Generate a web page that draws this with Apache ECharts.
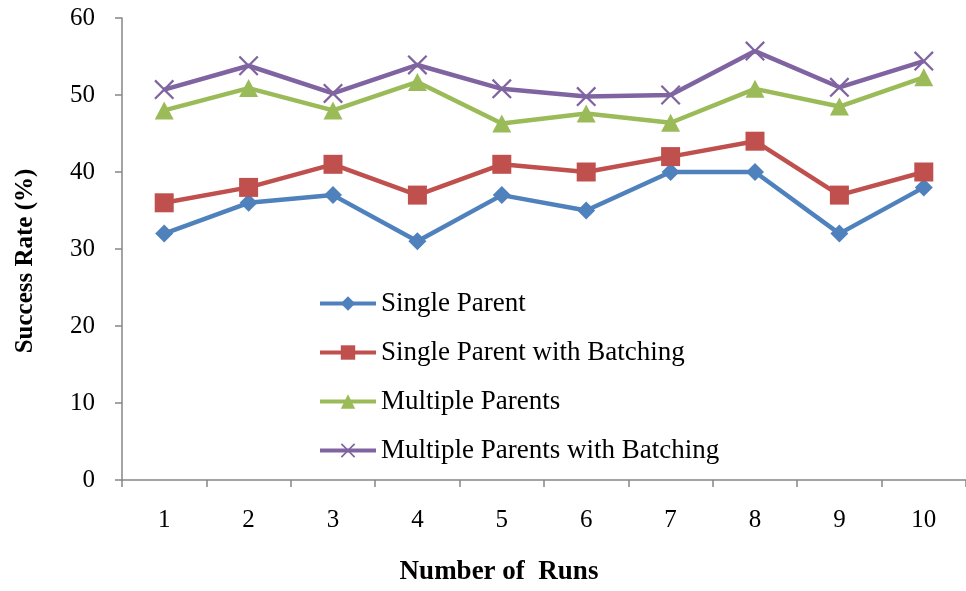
<!DOCTYPE html>
<html>
<head>
<meta charset="utf-8">
<script src="https://cdn.jsdelivr.net/npm/echarts@6/dist/echarts.min.js"></script>
<style>
html,body{margin:0;padding:0;background:#fff;}
#main{width:966px;height:591px;}
</style>
</head>
<body>
<div id="main"></div>
<script>
var runs = ['1','2','3','4','5','6','7','8','9','10'];
var singleParent = [32, 36, 37, 31, 37, 35, 40, 40, 32, 38];
var singleBatch = [36, 38, 41, 37, 41, 40, 42, 44, 37, 40];
var multiParents = [48, 50.9, 48, 51.7, 46.3, 47.6, 46.4, 50.8, 48.5, 52.3];
var multiBatch = [50.7, 53.8, 50.2, 53.9, 50.8, 49.8, 50, 55.7, 51, 54.4];
var yTicks = [0, 10, 20, 30, 40, 50, 60];

var serif = 'Liberation Serif';
// thin X marker, Excel style
var cross = 'path://M0,1.6L1.6,0L10,8.4L18.4,0L20,1.6L11.6,10L20,18.4L18.4,20L10,11.6L1.6,20L0,18.4L8.4,10Z';

var chart = echarts.init(document.getElementById('main'));
var option = {
	animation:false,
	grid:{
		left:122,
		right:-5,
		top:18,
		bottom:108
	},
	legend:{
		orient:'vertical',
		left:313,
		top:285,
		itemWidth:56,
		itemHeight:18,
		itemGap:22,
		lineStyle:{width:4},
		textStyle:{
			fontFamily:serif,
			fontSize:27,
			color:'#000'
		},
		data:['Single Parent','Single Parent with Batching','Multiple Parents','Multiple Parents with Batching']
	},
	xAxis:{
		type:'category',
		data:runs,
		boundaryGap:true,
		name:'Number of  Runs',
		nameLocation:'middle',
		nameGap:79,
		nameTextStyle:{
			fontFamily:serif,
			fontSize:27,
			fontWeight:'bold',
			color:'#000',
			padding:[0,90,0,0]
		},
		axisLine:{lineStyle:{color:'#868686',width:1.5}},
		axisTick:{show:true,length:7,alignWithLabel:false,lineStyle:{color:'#868686',width:1.5}},
		axisLabel:{
			margin:28,
			fontFamily:serif,
			fontSize:25,
			color:'#000'
		},
		splitLine:{show:false}
	},
	yAxis:{
		type:'value',
		min:yTicks[0],
		max:yTicks[yTicks.length-1],
		interval:10,
		name:'Success Rate (%)',
		nameLocation:'middle',
		nameGap:84,
		nameTextStyle:{
			fontFamily:serif,
			fontSize:25,
			fontWeight:'bold',
			color:'#000',
			padding:[0,24,0,0]
		},
		axisLine:{show:true,lineStyle:{color:'#868686',width:1.5}},
		axisTick:{show:true,length:7,lineStyle:{color:'#868686',width:1.5}},
		axisLabel:{
			margin:27,
			fontFamily:serif,
			fontSize:25,
			color:'#000'
		},
		splitLine:{show:false}
	},
	series:[
		{
			name:'Single Parent',
			type:'line',
			data:singleParent,
			symbol:'diamond',
			symbolSize:18,
			lineStyle:{width:4.5,color:'#4F81BD'},
			itemStyle:{color:'#4F81BD'}
		},
		{
			name:'Single Parent with Batching',
			type:'line',
			data:singleBatch,
			symbol:'rect',
			symbolSize:19,
			lineStyle:{width:4.5,color:'#C0504D'},
			itemStyle:{color:'#C0504D'}
		},
		{
			name:'Multiple Parents',
			type:'line',
			data:multiParents,
			symbol:'triangle',
			symbolSize:[19,18],
			lineStyle:{width:4.5,color:'#9BBB59'},
			itemStyle:{color:'#9BBB59'}
		},
		{
			name:'Multiple Parents with Batching',
			type:'line',
			data:multiBatch,
			symbol:cross,
			symbolSize:20,
			lineStyle:{width:4.5,color:'#8064A2'},
			itemStyle:{color:'#8064A2'}
		}
	]
};
chart.setOption(option);
</script>
</body>
</html>
